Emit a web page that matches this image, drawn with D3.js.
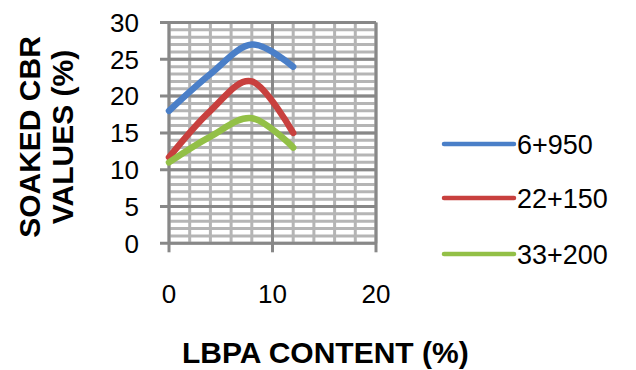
<!DOCTYPE html>
<html>
<head>
<meta charset="utf-8">
<script src="https://cdn.jsdelivr.net/npm/d3@7"></script>
<style>
  body { margin: 0; background: #fff; }
  text { font-family: "Liberation Sans", Arial, sans-serif; fill: #000; }
</style>
</head>
<body>
<div id="chart"></div>
<script>
// lbpa content (%) and soaked cbr values per chainage
var lbpa = [0, 4, 8, 12];
var cbr_6950 = [18, 23, 27, 24];
var cbr_22150 = [11.7, 18, 22, 15];
var cbr_33200 = [11, 14.5, 17, 13];
var seriesNames = ["6+950", "22+150", "33+200"];
var xTicks = [0, 10, 20];
var yTicks = [0, 5, 10, 15, 20, 25, 30];

var colors = ["#4a7fc8", "#c8403e", "#93c047"];
var allSeries = [cbr_6950, cbr_22150, cbr_33200];

var width = 636, height = 370;
var pLeft = 169, pRight = 376, pTop = 22.5, pBottom = 243.3;

var svg = d3.select("#chart").append("svg")
    .attr("width", width)
    .attr("height", height);

var x = d3.scaleLinear().domain([0, 20]).range([pLeft, pRight]);
var y = d3.scaleLinear().domain([0, 30]).range([pBottom, pTop]);

var grid = svg.append("g");

// minor grid
grid.selectAll(".hminor").data(d3.range(0, 31, 1)).enter().append("line")
    .attr("x1", pLeft).attr("x2", pRight)
    .attr("y1", d => y(d)).attr("y2", d => y(d))
    .attr("stroke", "#b5b5b5").attr("stroke-width", 3);
grid.selectAll(".vminor").data(d3.range(0, 21, 2)).enter().append("line")
    .attr("y1", pTop).attr("y2", pBottom)
    .attr("x1", d => x(d)).attr("x2", d => x(d))
    .attr("stroke", "#b5b5b5").attr("stroke-width", 3);

// major grid
grid.selectAll(".hmajor").data(yTicks).enter().append("line")
    .attr("x1", pLeft - 9).attr("x2", pRight)
    .attr("y1", d => y(d)).attr("y2", d => y(d))
    .attr("stroke", "#888").attr("stroke-width", 3);
grid.selectAll(".vmajor").data(xTicks).enter().append("line")
    .attr("y1", pTop).attr("y2", pBottom + 9)
    .attr("x1", d => x(d)).attr("x2", d => x(d))
    .attr("stroke", "#888").attr("stroke-width", 3);

// tick labels
svg.append("g").selectAll("text").data(yTicks).enter().append("text")
    .attr("x", 139)
    .attr("y", d => y(d))
    .attr("dy", "0.36em")
    .attr("text-anchor", "end")
    .style("font-size", "26px")
    .text(d => d);

svg.append("g").selectAll("text").data(xTicks).enter().append("text")
    .attr("x", d => x(d))
    .attr("y", 303)
    .attr("text-anchor", "middle")
    .style("font-size", "26px")
    .text(d => d);

// series
var line = d3.line()
    .x((d, i) => x(lbpa[i]))
    .y(d => y(d))
    .curve(d3.curveCatmullRom.alpha(0));

svg.append("g").selectAll("path").data(allSeries).enter().append("path")
    .attr("d", line)
    .attr("fill", "none")
    .attr("stroke", (d, i) => colors[i])
    .attr("stroke-width", 6.5)
    .attr("stroke-linecap", "round")
    .attr("stroke-linejoin", "round");

// axis titles
svg.append("text")
    .attr("x", 182)
    .attr("y", 363)
    .style("font-size", "30px")
    .style("font-weight", "bold")
    .text("LBPA CONTENT (%)");

var yt = svg.append("text")
    .attr("transform", "translate(40,137) rotate(-90)")
    .attr("text-anchor", "middle")
    .style("font-size", "30px")
    .style("font-weight", "bold");
yt.append("tspan").attr("x", 0).attr("y", 0).text("SOAKED CBR");
yt.append("tspan").attr("x", 0).attr("y", 33).text("VALUES (%)");

// legend
var legY = [144, 198, 254];
var leg = svg.append("g").selectAll("g").data(seriesNames).enter().append("g")
    .attr("transform", (d, i) => "translate(0," + legY[i] + ")");
leg.append("line")
    .attr("x1", 444).attr("x2", 514)
    .attr("stroke", (d, i) => colors[i])
    .attr("stroke-width", 4.5)
    .attr("stroke-linecap", "round");
leg.append("text")
    .attr("x", 517)
    .attr("dy", "0.36em")
    .style("font-size", "27px")
    .text(d => d);
</script>
</body>
</html>
